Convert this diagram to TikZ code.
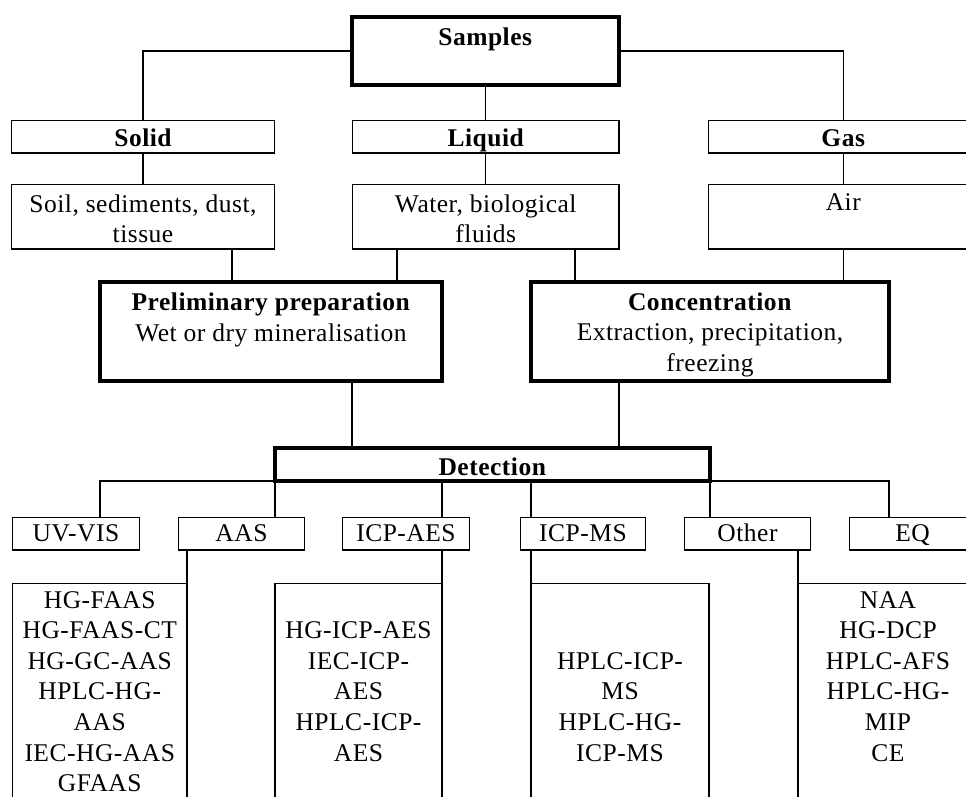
\documentclass[tikz,border=0pt]{standalone}
\usepackage{fontspec}
\setmainfont{Liberation Serif}[LetterSpace=2]

\begin{document}
\begin{tikzpicture}[x=1pt,y=-1pt,line width=1.3pt,
  box/.style={draw,rectangle,inner sep=0pt,outer sep=0pt,anchor=north west,align=center,line width=1.3pt,font=\fontsize{25.5pt}{30.6pt}\selectfont},
  heavy/.style={box,line width=3.6pt},
  head/.style={box,minimum height=32.5pt,text height=25.5pt,text depth=7pt,font=\fontsize{25.5pt}{30.6pt}\selectfont\bfseries},
  kind/.style={box,minimum height=64.5pt,text height=58.1pt,text depth=6.4pt},
  method/.style={box,minimum height=32.5pt,text height=24pt,text depth=8.5pt},
  list/.style={box,minimum height=250pt,text height=177.5pt,text depth=72.5pt}]
\useasboundingbox (0,0) rectangle (966,796);
\clip (0,0) rectangle (966,796);

\node[heavy,line width=4.3pt,minimum width=267pt,minimum height=68pt,text height=28pt,text depth=40pt] (samples) at (352,17) {\textbf{Samples}};

\node[head,minimum width=263pt] (solid) at (11.5,120.5) {Solid};
\node[head,minimum width=266.5pt] (liquid) at (352.5,120.5) {Liquid};
\node[head,minimum width=269.5pt] (gas) at (708.5,120.5) {Gas};

\node[kind,minimum width=263pt] (soil) at (11.5,184.5) {Soil, sediments, dust,\\tissue};
\node[kind,minimum width=266.5pt] (water) at (352.5,184.5) {Water, biological\\fluids};
\node[kind,minimum width=269.5pt,text height=25.5pt,text depth=39pt] (air) at (708.5,184.5) {Air};

\node[heavy,minimum width=342pt,minimum height=99pt,text height=59.1pt,text depth=39.9pt] (prelim) at (100,282) {\textbf{Preliminary preparation}\\Wet or dry mineralisation};
\node[heavy,minimum width=358pt,minimum height=99pt,text height=89.2pt,text depth=9.8pt] (conc) at (531,282) {\textbf{Concentration}\\Extraction, precipitation,\\freezing};

\node[heavy,minimum width=435pt,minimum height=33pt,text height=27pt,text depth=6pt] (detection) at (275,448) {\textbf{Detection}};

\node[method,minimum width=127pt] (uvvis) at (12.5,517.5) {UV-VIS};
\node[method,minimum width=126pt] (aas) at (178.5,517.5) {AAS};
\node[method,minimum width=127pt] (icpaes) at (342.5,517.5) {ICP-AES};
\node[method,minimum width=125pt] (icpms) at (520.5,517.5) {ICP-MS};
\node[method,minimum width=126pt] (other) at (684.5,517.5) {Other};
\node[method,minimum width=126pt] (eq) at (849.5,517.5) {EQ};

\node[list,minimum width=174.5pt,text height=208.1pt,text depth=41.9pt] (aaslist) at (12.5,583.5) {HG-FAAS\\HG-FAAS-CT\\HG-GC-AAS\\HPLC-HG-\\AAS\\IEC-HG-AAS\\GFAAS};
\node[list,minimum width=167pt] (aeslist) at (275,583.5) {\mbox{}\\HG-ICP-AES\\IEC-ICP-\\AES\\HPLC-ICP-\\AES};
\node[list,minimum width=178pt] (mslist) at (531,583.5) {\mbox{}\\\mbox{}\\HPLC-ICP-\\MS\\HPLC-HG-\\ICP-MS};
\node[list,minimum width=180pt] (otherlist) at (798,583.5) {NAA\\HG-DCP\\HPLC-AFS\\HPLC-HG-\\MIP\\CE};

\coordinate (soiltap) at ([xshift=-42.5pt]soil.south east);
\coordinate (waterleft) at ([xshift=44.5pt]water.south west);
\coordinate (waterright) at ([xshift=-44pt]water.south east);
\coordinate (preltap) at ([xshift=-90pt]prelim.south east);
\coordinate (conctap) at ([xshift=88pt]conc.south west);
\coordinate (uvtap) at ([xshift=24pt]uvvis.north);
\coordinate (eqtap) at ([xshift=-23.5pt]eq.north);

\draw (samples.west) -| (solid.north);
\draw (samples.east) -| (gas.north);
\draw (samples.south) -- (samples.south |- liquid.north);
\draw (solid.south) -- (soil.north);
\draw (liquid.south) -- (water.north);
\draw (gas.south) -- (air.north);
\draw (soiltap) -- (soiltap |- prelim.north);
\draw (waterleft) -- (waterleft |- prelim.north);
\draw (waterright) -- (waterright |- conc.north);
\draw (air.south) -- (air.south |- conc.north);
\draw (preltap) -- (preltap |- detection.north);
\draw (conctap) -- (conctap |- detection.north);
\draw (detection.south west) -| (uvtap);
\draw (detection.south west) -- (detection.south west |- aas.north);
\draw (detection.south -| aeslist.north east) -- (icpaes.north -| aeslist.north east);
\draw (detection.south -| mslist.north west) -- (icpms.north -| mslist.north west);
\draw (detection.south east) -- (detection.south east |- other.north);
\draw (detection.south east) -| (eqtap);
\draw (aaslist.north east) -- (aaslist.north east |- aas.south);
\draw (aeslist.north east) -- (aeslist.north east |- icpaes.south);
\draw (mslist.north west) -- (mslist.north west |- icpms.south);
\draw (otherlist.north west) -- (otherlist.north west |- other.south);
\end{tikzpicture}
\end{document}
